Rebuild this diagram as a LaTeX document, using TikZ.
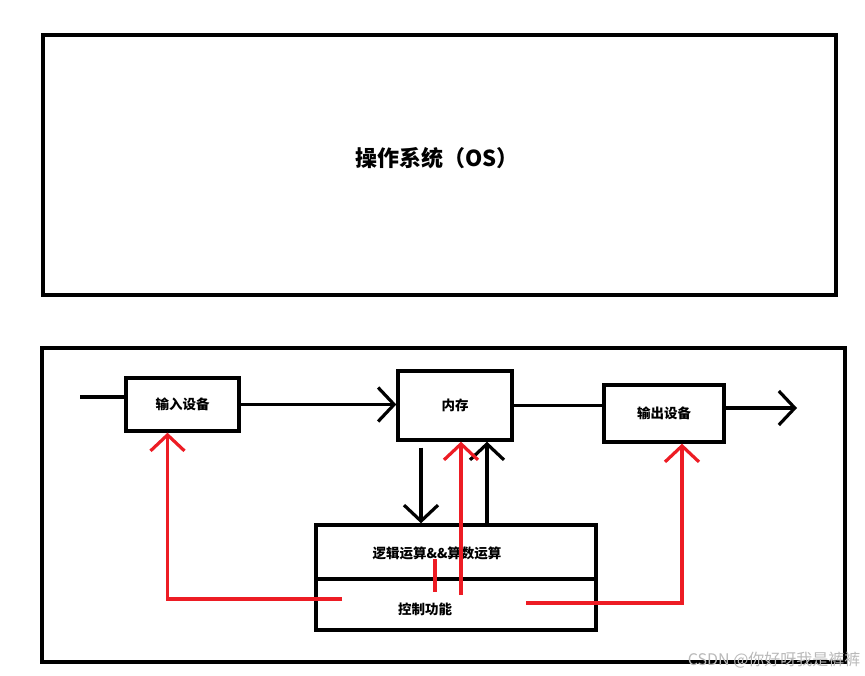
\documentclass[tikz,border=0pt]{standalone}
\usepackage{fontspec}
\setmainfont{Noto Sans CJK SC}
\usetikzlibrary{arrows.meta,positioning,calc}
\definecolor{pred}{HTML}{ED1C24}
\tikzset{blk/.style={draw,line width=3.4pt,inner sep=0pt},
  txt/.style={font=\bfseries\fontsize{13.5}{15}\selectfont},
  ln/.style={line width=3.2pt},
  rd/.style={line width=3.2pt,draw=pred},
  chev/.tip={Straight Barb[length=16pt,width=34pt]}}

\begin{document}
\begin{tikzpicture}[x=1pt,y=-1pt]
  \useasboundingbox (0,0) rectangle (865,675);
  % upper box
  \node[blk,minimum width=793pt,minimum height=260pt] (os) at (439.5,165) {};
  \node[font=\bfseries\fontsize{22}{26}\selectfont] (ttl) at (437,158) {操作系统（OS）};
  % lower box
  \node[blk,minimum width=803pt,minimum height=314pt] (hw) at (443.5,505) {};
  \node[blk,txt,minimum width=113pt,minimum height=53pt] (in) at (182.5,404.5) {输入设备};
  \node[blk,txt,minimum width=114pt,minimum height=69pt] (mem) at (455,405.5) {内存};
  \node[blk,txt,minimum width=120pt,minimum height=57pt] (out) at (664,413.5) {输出设备};
  \node[blk,minimum width=280pt,minimum height=54pt] (alu) at (456,552) {};
  \node[blk,minimum width=280pt,minimum height=51pt] (ctl) at (456,604.5) {};
  \node[txt] (alut) at (437,553) {逻辑运算\&\&算数运算};
  \node[txt] (ctlt) at (425,609) {控制功能};

  \coordinate (src) at (80,397);
  \coordinate (snk) at (797,408);
  \draw[ln] (src) -- (src -| in.west);
  \draw[ln,-chev] (in.east) -- (in.east -| mem.west);
  \draw[ln] (mem.east) -- (mem.east -| out.west);
  \draw[ln,-chev] (snk -| out.east) -- (snk);
  \draw[ln,-chev] ($(mem.south)+(-34,6)$) -- ($(alu.north)+(-35,0)$);
  \draw[ln,-chev] ($(alu.north)+(31,0)$) -- ($(mem.south)+(32,0)$);

  % control lines
  \coordinate (r1) at (461,595);
  \coordinate (r2) at (342,599);
  \coordinate (r3) at (526,603);
  \coordinate (t1) at (435,559);
  \coordinate (t2) at (435,592);
  \draw[rd,-chev] (r1) -- (r1 |- mem.south);
  \draw[rd] (t1) -- (t2);
  \draw[rd,-chev] (r2) -| ($(in.south)+(-15,0)$);
  \draw[rd,-chev] (r3) -| ($(out.south)+(18,0)$);

  \node[text=gray!55,font=\fontsize{16}{18}\selectfont,anchor=east] (wm) at (864,660) {CSDN @你好呀我是裤裤};
\end{tikzpicture}
\end{document}
